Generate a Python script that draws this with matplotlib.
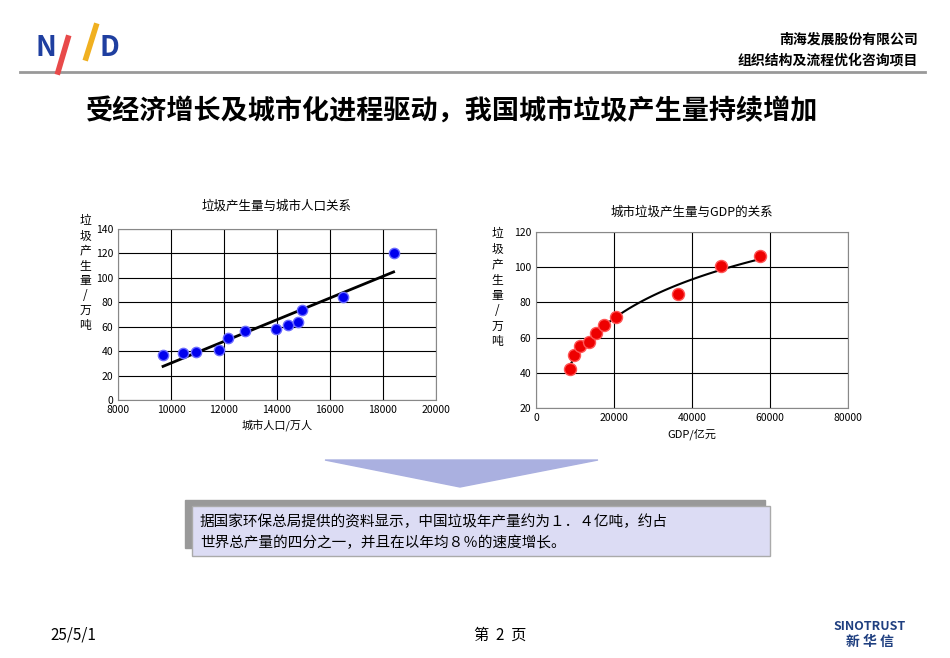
import numpy as np
import matplotlib
matplotlib.use("Agg")
import matplotlib.pyplot as plt
from matplotlib.patches import Polygon, Rectangle

plt.rcParams["font.family"] = ["Noto Sans CJK SC", "DejaVu Sans"]

pop = [9700, 10450, 10950, 11800, 12150, 12800, 13950, 14400, 14800, 14950, 16500, 18400]
waste_pop = [36.5, 38.5, 39.5, 41, 51, 56.5, 58.5, 61.5, 63.5, 74, 84.5, 120.5]
gdp = [8800, 9800, 11200, 13500, 15500, 17500, 20500, 36500, 47500, 57500]
waste_gdp = [42, 50, 55.5, 57.5, 62.5, 67, 71.5, 85, 100.5, 106.5]

W, H = 950, 658
fig = plt.figure(figsize=(W/100, H/100), dpi=100)

def ax_px(x0, y0, x1, y1):
    return fig.add_axes([x0/W, 1-y1/H, (x1-x0)/W, (y1-y0)/H])

bg = fig.add_axes([0, 0, 1, 1]); bg.set_xlim(0, W); bg.set_ylim(H, 0); bg.axis("off")
bg.plot([20, 925], [72, 72], color="#999999", lw=2)
bg.text(35, 48, "N", color="#1f3fa0", fontsize=20, fontweight="bold", style="italic", ha="left", va="center")
bg.plot([68, 58], [38, 72], color="#e84a4a", lw=4)
bg.plot([96, 86], [26, 58], color="#f0b020", lw=4)
bg.text(100, 48, "D", color="#1f3fa0", fontsize=20, fontweight="bold", style="italic", ha="left", va="center")
bg.text(918, 40, "南海发展股份有限公司", fontsize=10, fontweight="bold", ha="right", va="center")
bg.text(918, 60, "组织结构及流程优化咨询项目", fontsize=10, fontweight="bold", ha="right", va="center")
bg.text(452, 111, "受经济增长及城市化进程驱动，我国城市垃圾产生量持续增加", fontsize=19.5, fontweight="bold", ha="center", va="center")
bg.add_patch(Polygon([[325, 460], [598, 460], [460, 487]], closed=True, color="#aab0e0"))
bg.add_patch(Rectangle((185, 500), 580, 48, color="#999999"))
bg.add_patch(Rectangle((192, 506), 578, 50, facecolor="#dcdcf4", edgecolor="#aaaaaa"))
bg.text(200, 522, "据国家环保总局提供的资料显示，中国垃圾年产量约为１．４亿吨，约占", fontsize=10.5, va="center")
bg.text(200, 543, "世界总产量的四分之一，并且在以年均８％的速度增长。", fontsize=10.5, va="center")
bg.text(50, 635, "25/5/1", fontsize=11, va="center")
bg.text(500, 635, "第  2  页", fontsize=11, ha="center", va="center")
bg.text(870, 627, "SINOTRUST", fontsize=9, fontweight="bold", color="#1f3f80", ha="center", va="center")
bg.text(870, 642, "新 华 信", fontsize=10, fontweight="bold", color="#1f3f80", ha="center", va="center")

def style(ax):
    ax.grid(True, color="black", lw=0.8)
    ax.set_axisbelow(True)
    for s in ax.spines.values():
        s.set_color("#888888")
    ax.tick_params(length=0, labelsize=7.5)

a1 = ax_px(118, 229, 436, 400)
a1.set_xlim(8000, 20000); a1.set_ylim(0, 140)
a1.set_xticks(range(8000, 20001, 2000)); a1.set_yticks(range(0, 141, 20))
style(a1)
k, b = np.polyfit(pop, waste_pop, 1)
xs = np.array([min(pop), max(pop)])
a1.plot(xs, k*xs+b, color="black", lw=2)
a1.scatter(pop, waste_pop, s=55, color="#0000ee", edgecolor="#6a6aff", lw=1, zorder=3)
a1.set_title("垃圾产生量与城市人口关系", fontsize=9, pad=14)
a1.set_xlabel("城市人口/万人", fontsize=8)
bg.text(85, 214, "垃\n圾\n产\n生\n量\n/\n万\n吨", fontsize=8.5, va="top", ha="center", linespacing=1.2)

a2 = ax_px(536, 232, 848, 408)
a2.set_xlim(0, 80000); a2.set_ylim(20, 120)
a2.set_xticks(range(0, 80001, 20000)); a2.set_yticks(range(20, 121, 20))
style(a2)
ka, kb = np.polyfit(np.log(gdp), waste_gdp, 1)
xg = np.linspace(9000, 57500, 100)
a2.plot(xg, ka*np.log(xg)+kb, color="black", lw=1.5)
a2.scatter(gdp, waste_gdp, s=75, color="#ee0000", edgecolor="#ff5555", lw=1, zorder=3)
a2.set_title("城市垃圾产生量与GDP的关系", fontsize=9, pad=12)
a2.set_xlabel("GDP/亿元", fontsize=8)
bg.text(497, 227, "垃\n圾\n产\n生\n量\n/\n万\n吨", fontsize=8.5, va="top", ha="center", linespacing=1.25)

fig.savefig("out.png", dpi=100)
